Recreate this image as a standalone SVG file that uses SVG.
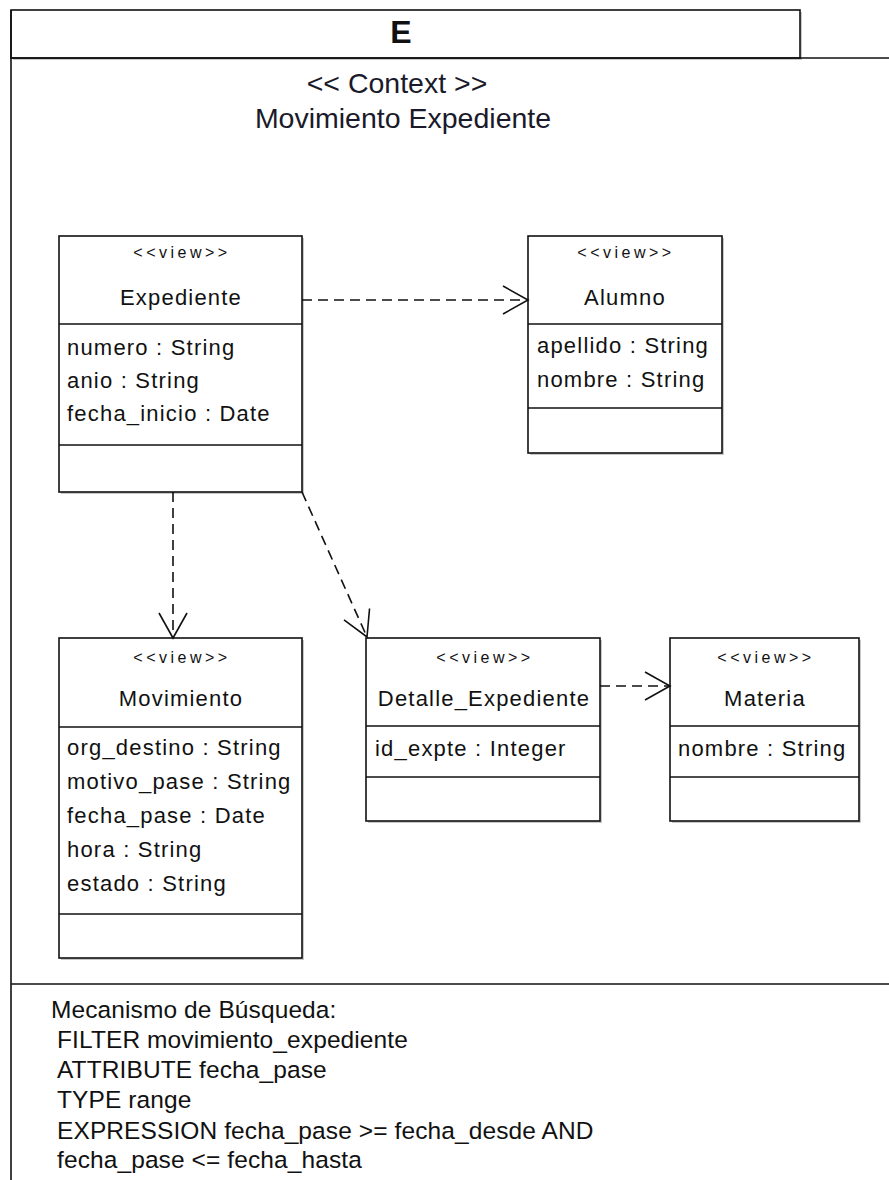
<svg xmlns="http://www.w3.org/2000/svg" width="889" height="1180" viewBox="0 0 889 1180">
  <style>
    .frame { fill: none; stroke: #111; stroke-width: 1.6; }
    .box { fill: #fff; stroke: #111; stroke-width: 1.6; }
    .shadow { fill: #9a9a9a; opacity: 0.55; }
    .sep { stroke: #111; stroke-width: 1.6; }
    .dep { fill: none; stroke: #111; stroke-width: 1.6; stroke-dasharray: 10 6; }
    .title { font-family: "Liberation Sans", Arial, sans-serif; font-size: 28.5px; fill: #1a1a2a; text-anchor: middle; }
    .frameName { font-family: "Liberation Sans", Arial, sans-serif; font-size: 32px; font-weight: bold; fill: #111; text-anchor: middle; }
    .stereo { font-family: "Liberation Sans", Arial, sans-serif; font-size: 16px; letter-spacing: 3.5px; fill: #111; text-anchor: middle; }
    .name { font-family: "Liberation Sans", Arial, sans-serif; font-size: 22px; letter-spacing: 1.2px; fill: #111; text-anchor: middle; }
    .attr { font-family: "Liberation Sans", Arial, sans-serif; font-size: 22px; letter-spacing: 1.2px; fill: #111; }
    .note { font-family: "Liberation Sans", Arial, sans-serif; font-size: 24.5px; letter-spacing: 0.1px; fill: #111; }
  </style>
  <defs>
    <marker id="open" viewBox="-27 -16 30 32" refX="0" refY="0" markerWidth="30" markerHeight="32" markerUnits="userSpaceOnUse" orient="auto">
      <path d="M -25 -14 L 0 0 L -25 14" fill="none" stroke="#111" stroke-width="1.6"/>
    </marker>
  </defs>

  <rect width="889" height="1180" fill="#fff"/>

  <!-- package frame -->
  <g id="frame">
    <rect x="13" y="12" width="789" height="48" class="shadow"/>
    <rect x="11" y="10" width="789" height="48" class="box"/>
    <text x="401" y="43" class="frameName">E</text>
    <line x1="11" y1="58" x2="889" y2="58" class="sep"/>
    <line x1="11" y1="10" x2="11" y2="1180" class="sep"/>
    <line x1="11" y1="984" x2="889" y2="984" class="sep"/>
    <text x="397" y="93" class="title">&lt;&lt; Context &gt;&gt;</text>
    <text x="403" y="128" class="title">Movimiento Expediente</text>
  </g>

  <!-- Expediente -->
  <g id="expediente">
    <rect x="61" y="238" width="243" height="256" class="shadow"/>
    <rect x="59" y="236" width="243" height="256" class="box"/>
    <line x1="59" y1="324" x2="302" y2="324" class="sep"/>
    <line x1="59" y1="445" x2="302" y2="445" class="sep"/>
    <text x="182" y="258" class="stereo">&lt;&lt;view&gt;&gt;</text>
    <text x="181" y="305" class="name">Expediente</text>
    <text x="67" y="355" class="attr">numero : String</text>
    <text x="67" y="388" class="attr">anio : String</text>
    <text x="67" y="421" class="attr">fecha_inicio : Date</text>
  </g>

  <!-- Alumno -->
  <g id="alumno">
    <rect x="530" y="238" width="194" height="217" class="shadow"/>
    <rect x="528" y="236" width="194" height="217" class="box"/>
    <line x1="528" y1="324" x2="722" y2="324" class="sep"/>
    <line x1="528" y1="408" x2="722" y2="408" class="sep"/>
    <text x="626" y="258" class="stereo">&lt;&lt;view&gt;&gt;</text>
    <text x="625" y="305" class="name">Alumno</text>
    <text x="537" y="353" class="attr">apellido : String</text>
    <text x="537" y="387" class="attr">nombre : String</text>
  </g>

  <!-- Movimiento -->
  <g id="movimiento">
    <rect x="61" y="640" width="243" height="320" class="shadow"/>
    <rect x="59" y="638" width="243" height="320" class="box"/>
    <line x1="59" y1="727" x2="302" y2="727" class="sep"/>
    <line x1="59" y1="914" x2="302" y2="914" class="sep"/>
    <text x="182" y="663" class="stereo">&lt;&lt;view&gt;&gt;</text>
    <text x="181" y="706" class="name">Movimiento</text>
    <text x="67" y="755" class="attr">org_destino : String</text>
    <text x="67" y="789" class="attr">motivo_pase : String</text>
    <text x="67" y="823" class="attr">fecha_pase : Date</text>
    <text x="67" y="857" class="attr">hora : String</text>
    <text x="67" y="891" class="attr">estado : String</text>
  </g>

  <!-- Detalle_Expediente -->
  <g id="detalle-expediente">
    <rect x="368" y="640" width="234" height="183" class="shadow"/>
    <rect x="366" y="638" width="234" height="183" class="box"/>
    <line x1="366" y1="726" x2="600" y2="726" class="sep"/>
    <line x1="366" y1="777" x2="600" y2="777" class="sep"/>
    <text x="485" y="663" class="stereo">&lt;&lt;view&gt;&gt;</text>
    <text x="484" y="706" class="name">Detalle_Expediente</text>
    <text x="375" y="756" class="attr">id_expte : Integer</text>
  </g>

  <!-- Materia -->
  <g id="materia">
    <rect x="672" y="640" width="189" height="183" class="shadow"/>
    <rect x="670" y="638" width="189" height="183" class="box"/>
    <line x1="670" y1="726" x2="859" y2="726" class="sep"/>
    <line x1="670" y1="777" x2="859" y2="777" class="sep"/>
    <text x="766" y="663" class="stereo">&lt;&lt;view&gt;&gt;</text>
    <text x="765" y="706" class="name">Materia</text>
    <text x="678" y="756" class="attr">nombre : String</text>
  </g>

  <!-- dependencies -->
  <g id="connectors">
    <line x1="302" y1="300" x2="528" y2="300" class="dep" marker-end="url(#open)"/>
    <line x1="173" y1="492" x2="173" y2="638" class="dep" marker-end="url(#open)"/>
    <line x1="302" y1="492" x2="367" y2="637" class="dep" marker-end="url(#open)"/>
    <line x1="600" y1="686" x2="670" y2="686" class="dep" marker-end="url(#open)"/>
  </g>

  <!-- search mechanism note -->
  <g id="search-note">
    <text x="51" y="1018" class="note">Mecanismo de Búsqueda:</text>
    <text x="57" y="1048" class="note">FILTER movimiento_expediente</text>
    <text x="57" y="1078" class="note">ATTRIBUTE fecha_pase</text>
    <text x="57" y="1108" class="note">TYPE range</text>
    <text x="57" y="1139" class="note">EXPRESSION fecha_pase &gt;= fecha_desde AND</text>
    <text x="57" y="1168" class="note">fecha_pase &lt;= fecha_hasta</text>
  </g>
</svg>
